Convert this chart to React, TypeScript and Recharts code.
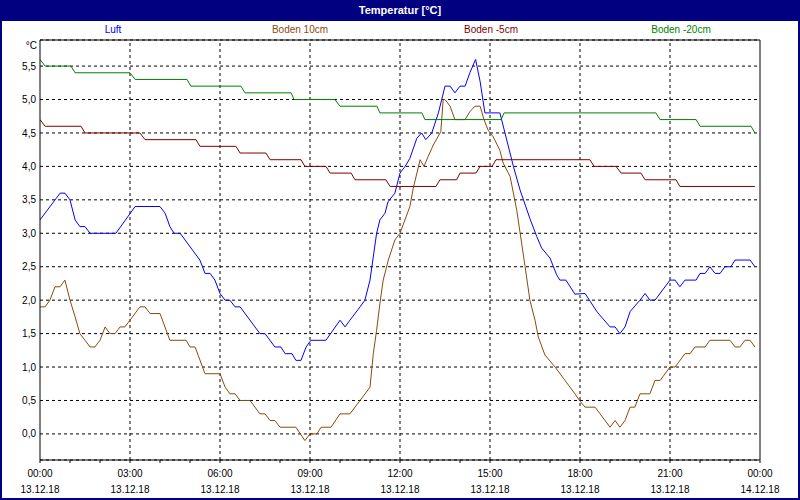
import React from 'react';
import { LineChart, Line, XAxis, YAxis, CartesianGrid, ReferenceLine } from 'recharts';

// [hour, °C]
const LUFT: [number, number][] = [
  [0, 3.2], [0.67, 3.6], [0.83, 3.6], [1.0, 3.5], [1.17, 3.2], [1.33, 3.1], [1.5, 3.1], [1.67, 3.0],
  [2.53, 3.0], [3.17, 3.4], [4.0, 3.4], [4.17, 3.3], [4.33, 3.1], [4.47, 3.0], [4.67, 3.0], [5.33, 2.6],
  [5.5, 2.4], [5.67, 2.4], [5.83, 2.3], [6.0, 2.1], [6.17, 2.0], [6.33, 2.0], [6.5, 1.9], [6.67, 1.9],
  [7.33, 1.5], [7.5, 1.5], [7.83, 1.3], [8.03, 1.3], [8.17, 1.2], [8.4, 1.2], [8.53, 1.1], [8.7, 1.1],
  [8.87, 1.3], [9.03, 1.4], [9.53, 1.4], [10.0, 1.7], [10.17, 1.6], [10.33, 1.7], [10.67, 1.9], [10.83, 2.0],
  [11.0, 2.3], [11.22, 3.0], [11.33, 3.2], [11.5, 3.3], [11.6, 3.47], [11.83, 3.6], [12.0, 3.9], [12.17, 4.0],
  [12.33, 4.12], [12.56, 4.42], [12.72, 4.5], [12.86, 4.4], [13.06, 4.5], [13.28, 4.8], [13.5, 5.2], [13.67, 5.2],
  [13.83, 5.1], [14.0, 5.2], [14.17, 5.2], [14.33, 5.4], [14.52, 5.6], [14.67, 5.27], [14.83, 4.8], [15.33, 4.8],
  [15.78, 4.0], [16.0, 3.65], [16.33, 3.22], [16.56, 2.95], [16.72, 2.78], [17.0, 2.63], [17.22, 2.38], [17.33, 2.3],
  [17.53, 2.3], [17.83, 2.09], [18.17, 2.1], [18.56, 1.83], [19.0, 1.6], [19.17, 1.6], [19.33, 1.5], [19.5, 1.6],
  [19.67, 1.83], [20.0, 2.0], [20.17, 2.1], [20.33, 2.0], [20.5, 2.0], [21.0, 2.3], [21.17, 2.3], [21.33, 2.2],
  [21.5, 2.3], [21.87, 2.3], [22.0, 2.4], [22.17, 2.4], [22.33, 2.5], [22.5, 2.4], [22.67, 2.4], [22.83, 2.5],
  [23.03, 2.5], [23.17, 2.6], [23.67, 2.6], [23.83, 2.5],
];

const BODEN_10: [number, number][] = [
  [0, 1.9], [0.17, 1.9], [0.33, 2.0], [0.5, 2.2], [0.67, 2.2], [0.83, 2.3], [1.0, 2.0], [1.17, 1.75],
  [1.33, 1.5], [1.5, 1.4], [1.67, 1.3], [1.83, 1.3], [2.0, 1.4], [2.17, 1.6], [2.33, 1.5], [2.5, 1.5],
  [2.67, 1.6], [2.83, 1.6], [3.0, 1.7], [3.33, 1.9], [3.5, 1.9], [3.67, 1.8], [4.0, 1.8], [4.33, 1.4],
  [4.87, 1.4], [5.0, 1.3], [5.17, 1.3], [5.5, 0.9], [6.0, 0.9], [6.17, 0.7], [6.33, 0.6], [6.5, 0.6],
  [6.67, 0.5], [7.0, 0.5], [7.33, 0.3], [7.5, 0.3], [7.67, 0.2], [7.83, 0.2], [8.0, 0.1], [8.53, 0.1],
  [8.83, -0.1], [9.0, 0.0], [9.23, 0.0], [9.37, 0.1], [9.7, 0.1], [10.0, 0.3], [10.33, 0.3], [10.67, 0.5],
  [11.0, 0.7], [11.11, 1.2], [11.22, 1.55], [11.33, 1.95], [11.44, 2.3], [11.61, 2.6], [11.83, 2.9], [12.0, 3.0],
  [12.33, 3.4], [12.44, 3.67], [12.67, 4.1], [12.8, 4.0], [12.94, 4.15], [13.11, 4.32], [13.36, 4.52], [13.44, 5.0],
  [13.5, 5.0], [13.67, 4.9], [13.83, 4.7], [14.17, 4.7], [14.33, 4.82], [14.5, 4.9], [14.67, 4.9], [14.8, 4.7],
  [14.94, 4.54], [15.11, 4.44], [15.33, 4.24], [15.44, 4.05], [15.67, 3.85], [15.89, 3.35], [16.17, 2.5], [16.33, 2.0],
  [16.5, 1.7], [16.61, 1.45], [16.83, 1.18], [17.17, 1.0], [17.5, 0.8], [17.83, 0.6], [18.0, 0.49], [18.17, 0.4],
  [18.5, 0.4], [18.67, 0.3], [19.0, 0.1], [19.17, 0.2], [19.33, 0.1], [19.5, 0.2], [19.67, 0.4], [19.83, 0.4],
  [20.0, 0.6], [20.33, 0.6], [20.5, 0.8], [20.67, 0.8], [21.0, 1.0], [21.17, 1.0], [21.5, 1.2], [21.67, 1.2],
  [21.83, 1.3], [22.17, 1.3], [22.33, 1.4], [23.0, 1.4], [23.17, 1.3], [23.33, 1.3], [23.5, 1.4], [23.67, 1.4],
  [23.83, 1.3],
];

const BODEN_M5: [number, number][] = [
  [0, 4.7], [0.17, 4.6], [1.37, 4.6], [1.5, 4.5], [3.33, 4.5], [3.5, 4.4], [5.2, 4.4], [5.33, 4.3],
  [6.53, 4.3], [6.67, 4.2], [7.53, 4.2], [7.67, 4.1], [8.7, 4.1], [8.83, 4.0], [9.53, 4.0], [9.67, 3.9],
  [10.37, 3.9], [10.5, 3.8], [11.53, 3.8], [11.67, 3.7], [13.2, 3.7], [13.33, 3.8], [13.89, 3.8], [14.0, 3.9],
  [14.53, 3.9], [14.67, 4.0], [15.07, 4.0], [15.2, 4.1], [18.33, 4.1], [18.47, 4.0], [19.2, 4.0], [19.37, 3.9],
  [20.03, 3.9], [20.17, 3.8], [21.2, 3.8], [21.33, 3.7], [23.83, 3.7],
];

const BODEN_M20: [number, number][] = [
  [0, 5.6], [0.17, 5.5], [1.03, 5.5], [1.17, 5.4], [3.0, 5.4], [3.17, 5.3], [4.9, 5.3], [5.03, 5.2],
  [6.7, 5.2], [6.83, 5.1], [8.37, 5.1], [8.47, 5.0], [9.83, 5.0], [10.0, 4.9], [11.23, 4.9], [11.33, 4.8],
  [12.73, 4.8], [12.83, 4.7], [15.37, 4.7], [15.47, 4.8], [20.53, 4.8], [20.67, 4.7], [21.87, 4.7], [22.0, 4.6],
  [23.7, 4.6], [23.83, 4.5],
];

const HOURS = Array.from({ length: 25 }, (_, i) => i);
const GRID_HOURS = [3, 6, 9, 12, 15, 18, 21];
const Y_TICKS = [0, 0.5, 1, 1.5, 2, 2.5, 3, 3.5, 4, 4.5, 5, 5.5];
const Y_MIN = -0.39;
const Y_MAX = 5.89;

const SERIES = [
  { name: 'Luft', data: LUFT, color: '#0000ff', labelX: 113 },
  { name: 'Boden 10cm', data: BODEN_10, color: '#8b4a0c', labelX: 300 },
  { name: 'Boden -5cm', data: BODEN_M5, color: '#800000', labelX: 491 },
  { name: 'Boden -20cm', data: BODEN_M20, color: '#008000', labelX: 681 },
];

const FONT = '"Liberation Sans", Arial, sans-serif';

const toPoints = (arr: [number, number][]) => arr.map(([h, v]) => ({ h, v }));

const XTick = ({ x, y, payload }: any) => {
  const h = payload.value;
  if (h % 3 !== 0) return null;
  const time = `${String(h % 24).padStart(2, '0')}:00`;
  const date = h === 24 ? '14.12.18' : '13.12.18';
  return (
    <text x={x} y={y} textAnchor="middle" fontSize={10} fill="#000" fontFamily={FONT}>
      <tspan x={x} dy={12}>{time}</tspan>
      <tspan x={x} dy={16}>{date}</tspan>
    </text>
  );
};

export default function App() {
  return (
    <div style={{ position: 'relative', width: 800, height: 500, background: '#fff', fontFamily: FONT, overflow: 'hidden' }}>
      <style>{'body{margin:0}'}</style>
      <div style={{ position: 'absolute', left: 0, top: 0, width: 800, height: 21, background: '#000080', color: '#fff', fontWeight: 'bold', fontSize: 11, lineHeight: '21px', textAlign: 'center' }}>
        Temperatur [°C]
      </div>
      {SERIES.map((s) => (
        <div key={s.name} style={{ position: 'absolute', top: 24, left: s.labelX, transform: 'translateX(-50%)', fontSize: 10, lineHeight: '12px', color: s.color, whiteSpace: 'nowrap' }}>
          {s.name}
        </div>
      ))}
      <div style={{ position: 'absolute', top: 40, left: 37, transform: 'translateX(-100%)', fontSize: 10, lineHeight: '12px', color: '#000' }}>°C</div>
      <div style={{ position: 'absolute', top: 20 }}>
        <LineChart width={800} height={480} margin={{ top: 20, right: 40, bottom: 0, left: 0 }}>
          <CartesianGrid horizontal vertical={false} stroke="#000" strokeDasharray="3 3" />
          <XAxis
            dataKey="h"
            type="number"
            domain={[0, 24]}
            ticks={HOURS}
            interval={0}
            height={40}
            stroke="#000"
            tickSize={3}
            tickMargin={2}
            tick={<XTick />}
            allowDataOverflow
          />
          <YAxis
            type="number"
            domain={[Y_MIN, Y_MAX]}
            ticks={Y_TICKS}
            width={40}
            stroke="#000"
            tickLine={false}
            tickSize={0}
            tickMargin={4}
            tick={{ fontSize: 10, fill: '#000', fontFamily: FONT }}
            tickFormatter={(v: number) => v.toFixed(1).replace('.', ',')}
            allowDataOverflow
          />
          {GRID_HOURS.map((h) => (
            <ReferenceLine key={h} x={h} stroke="#000" strokeDasharray="3 3" />
          ))}
          <ReferenceLine x={24} stroke="#000" />
          <ReferenceLine y={Y_MAX} stroke="#000" />
          {SERIES.map((s) => (
            <Line
              key={s.name}
              data={toPoints(s.data)}
              dataKey="v"
              type="linear"
              stroke={s.color}
              strokeWidth={1}
              dot={false}
              isAnimationActive={false}
            />
          ))}
        </LineChart>
      </div>
      <div style={{ position: 'absolute', inset: 0, border: '2px solid #000080', borderTop: 'none', pointerEvents: 'none' }} />
    </div>
  );
}
